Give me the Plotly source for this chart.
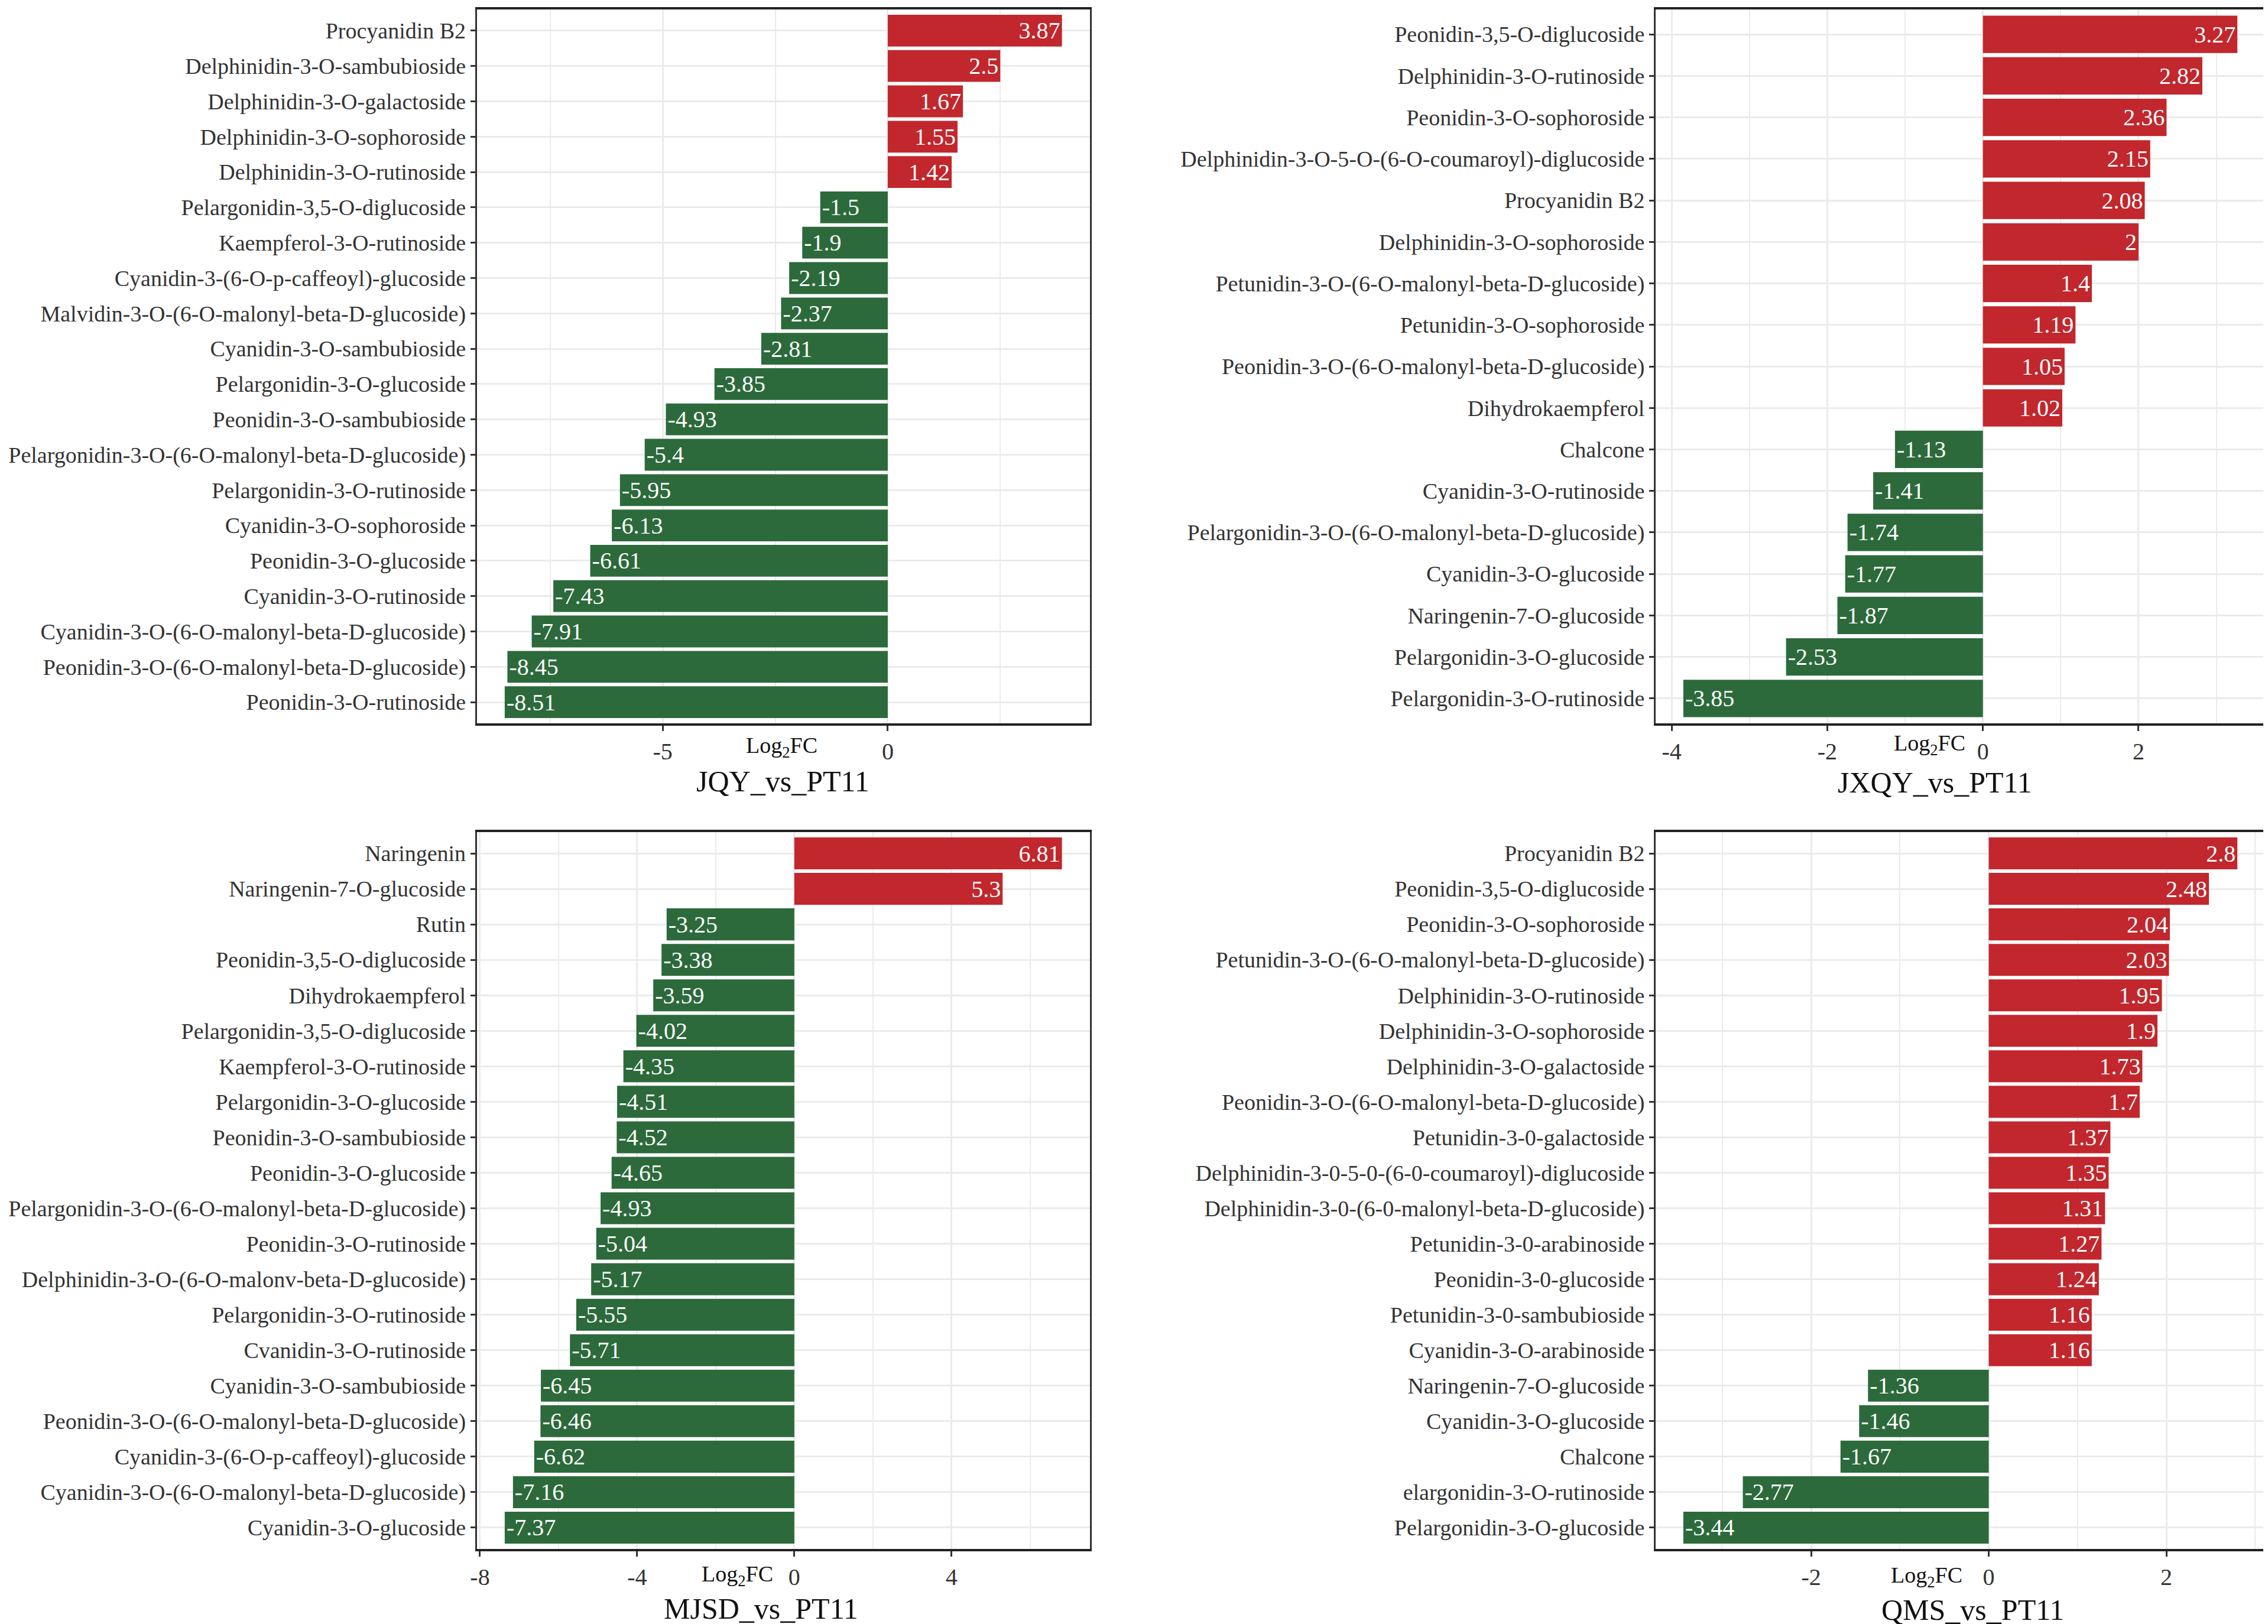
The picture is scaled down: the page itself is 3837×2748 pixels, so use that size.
import math
import plotly.graph_objects as go

# ---------------- data ----------------
jqy_labels = [
    "Procyanidin B2", "Delphinidin-3-O-sambubioside", "Delphinidin-3-O-galactoside",
    "Delphinidin-3-O-sophoroside", "Delphinidin-3-O-rutinoside", "Pelargonidin-3,5-O-diglucoside",
    "Kaempferol-3-O-rutinoside", "Cyanidin-3-(6-O-p-caffeoyl)-glucoside",
    "Malvidin-3-O-(6-O-malonyl-beta-D-glucoside)", "Cyanidin-3-O-sambubioside",
    "Pelargonidin-3-O-glucoside", "Peonidin-3-O-sambubioside",
    "Pelargonidin-3-O-(6-O-malonyl-beta-D-glucoside)", "Pelargonidin-3-O-rutinoside",
    "Cyanidin-3-O-sophoroside", "Peonidin-3-O-glucoside", "Cyanidin-3-O-rutinoside",
    "Cyanidin-3-O-(6-O-malonyl-beta-D-glucoside)", "Peonidin-3-O-(6-O-malonyl-beta-D-glucoside)",
    "Peonidin-3-O-rutinoside",
]
jqy_values = [3.87, 2.5, 1.67, 1.55, 1.42, -1.5, -1.9, -2.19, -2.37, -2.81,
              -3.85, -4.93, -5.4, -5.95, -6.13, -6.61, -7.43, -7.91, -8.45, -8.51]

jxqy_labels = [
    "Peonidin-3,5-O-diglucoside", "Delphinidin-3-O-rutinoside", "Peonidin-3-O-sophoroside",
    "Delphinidin-3-O-5-O-(6-O-coumaroyl)-diglucoside", "Procyanidin B2",
    "Delphinidin-3-O-sophoroside", "Petunidin-3-O-(6-O-malonyl-beta-D-glucoside)",
    "Petunidin-3-O-sophoroside", "Peonidin-3-O-(6-O-malonyl-beta-D-glucoside)",
    "Dihydrokaempferol", "Chalcone", "Cyanidin-3-O-rutinoside",
    "Pelargonidin-3-O-(6-O-malonyl-beta-D-glucoside)", "Cyanidin-3-O-glucoside",
    "Naringenin-7-O-glucoside", "Pelargonidin-3-O-glucoside", "Pelargonidin-3-O-rutinoside",
]
jxqy_values = [3.27, 2.82, 2.36, 2.15, 2.08, 2, 1.4, 1.19, 1.05, 1.02,
               -1.13, -1.41, -1.74, -1.77, -1.87, -2.53, -3.85]

mjsd_labels = [
    "Naringenin", "Naringenin-7-O-glucoside", "Rutin", "Peonidin-3,5-O-diglucoside",
    "Dihydrokaempferol", "Pelargonidin-3,5-O-diglucoside", "Kaempferol-3-O-rutinoside",
    "Pelargonidin-3-O-glucoside", "Peonidin-3-O-sambubioside", "Peonidin-3-O-glucoside",
    "Pelargonidin-3-O-(6-O-malonyl-beta-D-glucoside)", "Peonidin-3-O-rutinoside",
    "Delphinidin-3-O-(6-O-malonv-beta-D-glucoside)", "Pelargonidin-3-O-rutinoside",
    "Cvanidin-3-O-rutinoside", "Cyanidin-3-O-sambubioside",
    "Peonidin-3-O-(6-O-malonyl-beta-D-glucoside)", "Cyanidin-3-(6-O-p-caffeoyl)-glucoside",
    "Cyanidin-3-O-(6-O-malonyl-beta-D-glucoside)", "Cyanidin-3-O-glucoside",
]
mjsd_values = [6.81, 5.3, -3.25, -3.38, -3.59, -4.02, -4.35, -4.51, -4.52, -4.65,
               -4.93, -5.04, -5.17, -5.55, -5.71, -6.45, -6.46, -6.62, -7.16, -7.37]

qms_labels = [
    "Procyanidin B2", "Peonidin-3,5-O-diglucoside", "Peonidin-3-O-sophoroside",
    "Petunidin-3-O-(6-O-malonyl-beta-D-glucoside)", "Delphinidin-3-O-rutinoside",
    "Delphinidin-3-O-sophoroside", "Delphinidin-3-O-galactoside",
    "Peonidin-3-O-(6-O-malonyl-beta-D-glucoside)", "Petunidin-3-0-galactoside",
    "Delphinidin-3-0-5-0-(6-0-coumaroyl)-diglucoside",
    "Delphinidin-3-0-(6-0-malonyl-beta-D-glucoside)", "Petunidin-3-0-arabinoside",
    "Peonidin-3-0-glucoside", "Petunidin-3-0-sambubioside", "Cyanidin-3-O-arabinoside",
    "Naringenin-7-O-glucoside", "Cyanidin-3-O-glucoside", "Chalcone",
    "elargonidin-3-O-rutinoside", "Pelargonidin-3-O-glucoside",
]
qms_values = [2.8, 2.48, 2.04, 2.03, 1.95, 1.9, 1.73, 1.7, 1.37, 1.35,
              1.31, 1.27, 1.24, 1.16, 1.16, -1.36, -1.46, -1.67, -2.77, -3.44]

panel_titles = ["JQY_vs_PT11", "JXQY_vs_PT11", "MJSD_vs_PT11", "QMS_vs_PT11"]
axis_title = "Log<sub>2</sub>FC"
major_dticks = [5, 2, 4, 2]

# ---------------- style ----------------
W, H = 3837, 2748
FONT = "Liberation Serif"
RED = "#C1272D"
GREEN = "#2C6A3B"
GRID = "#EBEBEB"
TEXT = "#333333"

panels = [
    (jqy_labels, jqy_values),
    (jxqy_labels, jxqy_values),
    (mjsd_labels, mjsd_values),
    (qms_labels, qms_values),
]

# pixel domains [left, right, top, bottom]
dom_px = [
    (790, 1830, 8, 1216),
    (2790, 3824, 8, 1216),
    (790, 1830, 1400, 2613),
    (2790, 3824, 1400, 2613),
]
# annotation pixel positions: (log2fc_x, log2fc_y, title_x, title_y)
ann_px = [
    (1307, 1256, 1309, 1314),
    (3255, 1252, 3264, 1316),
    (1232, 2658, 1272, 2714),
    (3250, 2660, 3328, 2716),
]

fig = go.Figure()
layout = {}
annotations = []

for i, ((labels, values), (l, r, t, b), dt) in enumerate(zip(panels, dom_px, major_dticks)):
    n = i + 1
    xa = "x" if n == 1 else f"x{n}"
    ya = "y" if n == 1 else f"y{n}"
    colors = [RED if v > 0 else GREEN for v in values]
    fig.add_trace(go.Bar(
        x=values, y=labels, orientation="h",
        marker=dict(color=colors, line=dict(width=0)),
        text=[f"{v:g}" for v in values],
        textposition="inside", insidetextanchor="end", textangle=0,
        textfont=dict(family=FONT, size=40, color="white"),
        xaxis=xa, yaxis=ya, showlegend=False, hoverinfo="x+y",
    ))
    vmin = min(0, min(values))
    vmax = max(0, max(values))
    span = vmax - vmin
    xr = [vmin - 0.05 * span, vmax + 0.05 * span]
    tvals = [k * dt for k in range(math.ceil(xr[0] / dt), math.floor(xr[1] / dt) + 1)]
    ttext = [f"{v:g}" for v in tvals]
    nrow = len(labels)
    xkey = "xaxis" if n == 1 else f"xaxis{n}"
    ykey = "yaxis" if n == 1 else f"yaxis{n}"
    layout[xkey] = dict(
        domain=[l / W, r / W], anchor=ya, range=xr,
        tickmode="array", tickvals=tvals, ticktext=ttext,
        showgrid=True, gridcolor=GRID, gridwidth=3,
        minor=dict(dtick=dt / 2, tick0=0, showgrid=True, gridcolor=GRID, gridwidth=2, ticks=""),
        zeroline=False, showline=True, linecolor="#222222", linewidth=4, mirror=True,
        ticks="outside", ticklen=9, tickwidth=3, tickcolor="#333333",
        tickfont=dict(family=FONT, size=40, color=TEXT),
    )
    layout[ykey] = dict(
        domain=[1 - b / H, 1 - t / H], anchor=xa,
        type="category", categoryorder="array", categoryarray=labels,
        range=[nrow - 1 + 0.6, -0.6],
        showgrid=True, gridcolor=GRID, gridwidth=3, zeroline=False,
        showline=True, linecolor="#333333", linewidth=3, mirror=True,
        ticks="outside", ticklen=8, tickwidth=3, tickcolor="#333333",
        tickfont=dict(family=FONT, size=38, color=TEXT),
    )
    lx, ly, tx, ty = ann_px[i]
    annotations.append(dict(
        text=axis_title, x=lx / W, y=1 - ly / H, xref="paper", yref="paper",
        xanchor="center", yanchor="middle", showarrow=False,
        font=dict(family=FONT, size=38, color="#111111"),
    ))
    annotations.append(dict(
        text=panel_titles[i], x=tx / W, y=1 - ty / H, xref="paper", yref="paper",
        xanchor="center", yanchor="middle", showarrow=False,
        font=dict(family=FONT, size=50, color="#111111"),
    ))

fig.update_layout(
    width=W, height=H,
    margin=dict(l=0, r=0, t=0, b=0),
    paper_bgcolor="white", plot_bgcolor="white",
    bargap=0.1,
    font=dict(family=FONT, color=TEXT),
    uniformtext=dict(minsize=40, mode="show"),
    annotations=annotations,
    **layout,
)

fig.write_html("out.html")
